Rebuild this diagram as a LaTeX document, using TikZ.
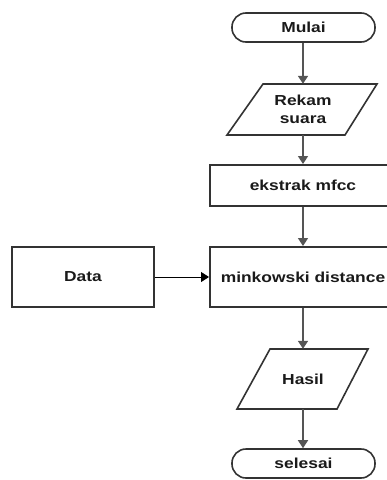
\documentclass[tikz,border=0pt]{standalone}
\usepackage{fontspec}
\setmainfont{Liberation Sans}[FakeStretch=1.2]
\usetikzlibrary{arrows.meta}
\definecolor{edge}{HTML}{333333}
\definecolor{flow}{HTML}{555555}
\definecolor{ink}{HTML}{1A1A1A}
\tikzset{
  x=1pt, y=1pt,
  lbl/.style={font=\fontsize{14.5}{18}\selectfont\bfseries, text=ink, align=center, inner sep=0pt},
  boxnode/.style={lbl, draw=edge, line width=2pt, minimum width=#1},
  term/.style={lbl, draw=edge, line width=1.6pt, rounded corners=14pt, minimum width=143pt, minimum height=29pt},
  iobox/.style={lbl, minimum height=#1},
  flowline/.style={draw=flow, line width=1.6pt, -{Triangle[length=8pt,width=10pt]}},
  feedline/.style={draw=black, line width=1pt, -{Triangle[length=8pt,width=10pt]}},
  slantbox/.style={draw=edge, line width=1.6pt, line join=miter}
}
\begin{document}
\begin{tikzpicture}
\useasboundingbox (0,0) rectangle (387,-480);

% start / end terminators
\node[term] (mulai) at (303.5,-27.5) {Mulai};
\node[term] (selesai) at (303.5,-463.5) {selesai};

% input: record voice
\draw[slantbox] (263,-84) -- (377,-84) -- (345,-135) -- (227,-135) -- cycle;
\node[iobox=51pt] (rekam) at (303,-109.5) {Rekam\\suara};

% processing steps
\node[boxnode=186pt, minimum height=41pt] (mfcc) at (303,-185.5) {ekstrak mfcc};
\node[boxnode=186pt, minimum height=60pt] (mink) at (303,-277) {minkowski distance};
\node[boxnode=142pt, minimum height=60pt] (data) at (83,-277) {Data};

% output: result
\draw[slantbox] (270,-349) -- (368,-349) -- (337,-409) -- (237,-409) -- cycle;
\node[iobox=60pt] (hasil) at (303,-379) {Hasil};

% connectors
\draw[flowline] (mulai.south -| rekam.north) -- (rekam.north);
\draw[flowline] (rekam.south) -- (mfcc.north -| rekam.south);
\draw[flowline] (mfcc.south -| rekam.south) -- (mink.north -| rekam.south);
\draw[flowline] (mink.south -| hasil.north) -- (hasil.north);
\draw[flowline] (hasil.south) -- (selesai.north -| hasil.south);
\draw[feedline] (data.east) -- (mink.west);
\end{tikzpicture}
\end{document}
